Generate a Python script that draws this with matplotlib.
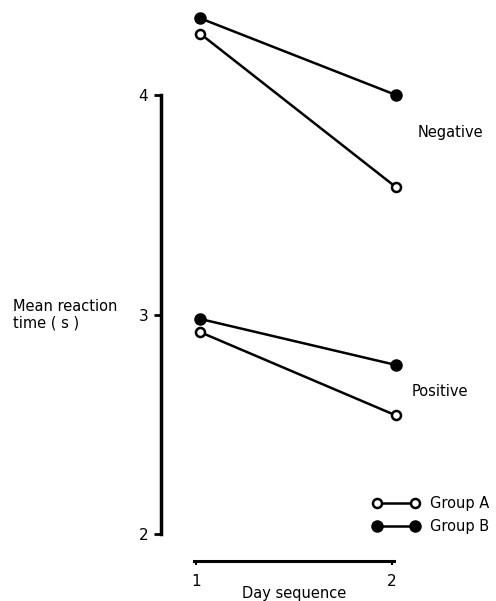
import matplotlib
matplotlib.use("Agg")
import matplotlib.pyplot as plt

days = [1, 2]
neg_group_a = [4.28, 3.58]
neg_group_b = [4.35, 4.00]
pos_group_a = [2.92, 2.54]
pos_group_b = [2.98, 2.77]
y_ticks = [2, 3, 4]
x_ticks = [1, 2]

plt.rcParams['font.family'] = ['DejaVu Sans']
fig = plt.figure(figsize=(4.96, 6.01), dpi=100)
ax = fig.add_axes([0, 0, 1, 1])
ax.patch.set_alpha(0)

x0, x1 = -0.0204, 2.5102
y0, y1 = 1.6948, 4.4328
ax.set_xlim(x0, x1)
ax.set_ylim(y0, y1)

open_kw = dict(color='black', lw=1.8, marker='o', ms=6.5, mfc='white', mec='black', mew=1.8)
fill_kw = dict(color='black', lw=1.8, marker='o', ms=8, mfc='black', mec='black')

ax.plot(days, neg_group_a, **open_kw, zorder=3)
ax.plot(days, neg_group_b, **fill_kw, zorder=3)
ax.plot(days, pos_group_a, **open_kw, zorder=3)
ax.plot(days, pos_group_b, **fill_kw, zorder=3)

ax.text(2.11, 3.83, 'Negative', fontsize=10.5, va='center', ha='left')
ax.text(2.08, 2.65, 'Positive', fontsize=10.5, va='center', ha='left')

# Legend
leg = ax.legend(
    handles=[plt.Line2D([], [], **open_kw), plt.Line2D([], [], **fill_kw)],
    labels=['Group A', 'Group B'],
    loc='center left', bbox_to_anchor=(0.739, 0.143), frameon=False,
    fontsize=10.5, handlelength=3.2, handletextpad=0.75, labelspacing=0.55,
    numpoints=2, borderaxespad=0)

# Axes
for s in ['top', 'right']:
    ax.spines[s].set_visible(False)
ax.spines['left'].set_position(('data', 0.80))
ax.spines['left'].set_bounds(2, 4)
ax.spines['left'].set_linewidth(2.5)
ax.spines['bottom'].set_position(('data', 1.877))
ax.spines['bottom'].set_bounds(0.97, 1.99)
ax.spines['bottom'].set_linewidth(2.2)
ax.set_yticks(y_ticks)
ax.set_yticklabels([str(t) for t in y_ticks], fontsize=11)
ax.set_xticks([0.98, 1.98])
ax.set_xticklabels([str(t) for t in x_ticks], fontsize=11)
ax.tick_params(axis='y', direction='out', length=5, width=2, pad=4)
ax.tick_params(axis='x', direction='out', length=3, width=1.5, pad=6)

ax.text(-0.0204 + 13 / 196, 3.0, 'Mean reaction\ntime ( s )', fontsize=10.5,
        va='center', ha='left', linespacing=1.1)
ax.text(1.48, 1.727, 'Day sequence', fontsize=10.5, va='center', ha='center')

fig.savefig('out.png', dpi=100)
